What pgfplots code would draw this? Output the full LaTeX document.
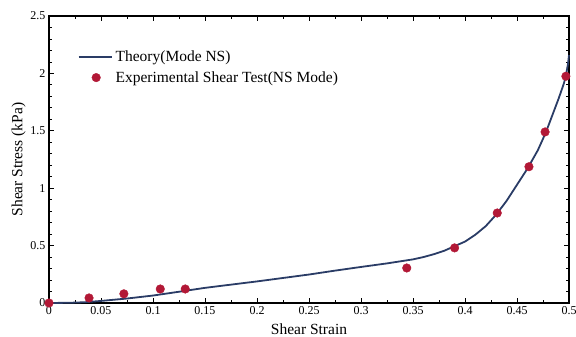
\documentclass[border=0pt]{standalone}
\usepackage{pgfplots}
\pgfplotsset{compat=1.18}
\usepackage{fontspec}
\setmainfont{Liberation Serif}
\definecolor{theory}{RGB}{42,60,102}
\definecolor{expt}{RGB}{178,24,54}
\pgfplotsset{
  linelegend/.style={legend image code/.code={\draw[##1, line width=1.8pt] (0pt,0pt) -- (33pt,0pt);}},
  marklegend/.style={legend image code/.code={\draw[mark repeat=2,mark phase=2,##1] plot coordinates {(0pt,0pt) (17.5pt,0pt) (35pt,0pt)};}},
}
\begin{document}
\begin{tikzpicture}
\path[use as bounding box] (-49pt,-34pt) rectangle (527pt,303pt);
\begin{axis}[
  scale only axis,
  width=520pt, height=287pt,
  at={(0pt,0pt)}, anchor=south west,
  xmin=0, xmax=0.5, ymin=0, ymax=2.5,
  xtick={0,0.05,...,0.5},
  xticklabels={0,0.05,0.1,0.15,0.2,0.25,0.3,0.35,0.4,0.45,0.5},
  ytick={0,0.5,1,1.5,2,2.5},
  yticklabels={0,0.5,1,1.5,2,2.5},
  minor x tick num=1, minor y tick num=4,
  tick align=inside,
  major tick length=5pt, minor tick length=3pt,
  tick style={black, line width=0.8pt},
  axis line style={black, line width=1.2pt},
  /pgf/number format/assume math mode=true,
  tick label style={font=\fontsize{12}{12}\selectfont},
  label style={font=\fontsize{15.5}{17}\selectfont},
  xlabel={Shear Strain},
  ylabel={Shear Stress (kPa)},
  xlabel style={yshift=-2pt},
  ylabel style={yshift=-2pt},
  clip=false,
  legend cell align=left,
  legend style={at={(0.055,0.885)}, anchor=north west, draw=none, fill=none,
    font=\fontsize{15.5}{17}\selectfont, row sep=4pt, inner sep=0pt,
    nodes={inner xsep=3pt}},
]
\addplot[theory, line width=1.8pt, linelegend]
  coordinates {
  (0,0) (0.02,0.002) (0.035,0.007) (0.05,0.018) (0.075,0.039) (0.1,0.065)
  (0.125,0.098) (0.15,0.132) (0.175,0.160) (0.2,0.188) (0.225,0.218)
  (0.25,0.248) (0.275,0.282) (0.3,0.314) (0.325,0.345) (0.35,0.38)
  (0.36,0.40) (0.37,0.425) (0.38,0.455) (0.39,0.495) (0.4,0.535)
  (0.41,0.595) (0.42,0.67) (0.43,0.77) (0.44,0.89) (0.45,1.03)
  (0.46,1.17) (0.465,1.25) (0.47,1.33) (0.475,1.43) (0.48,1.54)
  (0.485,1.66) (0.49,1.78) (0.495,1.91) (0.497,1.98) (0.499,2.08) (0.5,2.16)
  };
\addlegendentry{Theory(Mode NS)}
\addplot[only marks, mark=*, mark size=4.3pt, expt, mark options={draw=expt, fill=expt}, marklegend]
  coordinates {
  (0,0) (0.0385,0.044) (0.072,0.080) (0.107,0.122) (0.131,0.122)
  (0.344,0.305) (0.390,0.48) (0.431,0.784) (0.4615,1.187) (0.477,1.49) (0.497,1.975)
  };
\addlegendentry{Experimental Shear Test(NS Mode)}
\end{axis}
\end{tikzpicture}
\end{document}
